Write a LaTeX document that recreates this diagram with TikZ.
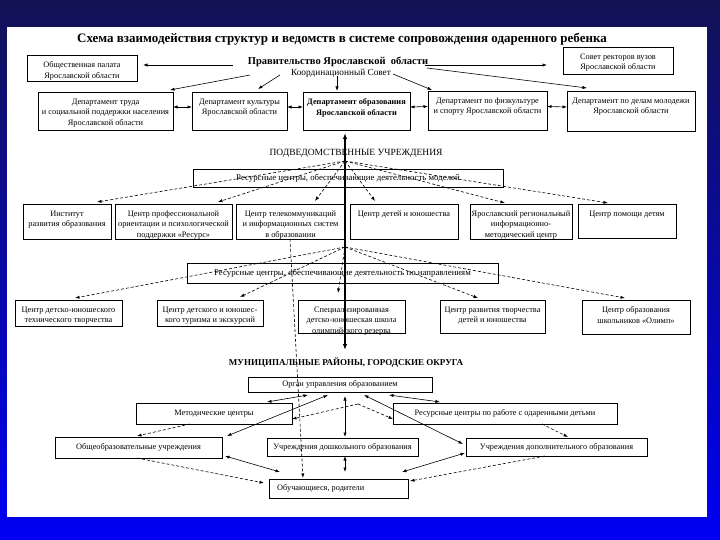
\documentclass[tikz,border=0pt]{standalone}
\usepackage{fontspec}
\setmainfont{Liberation Serif}
\usetikzlibrary{arrows.meta}
\definecolor{bgtop}{RGB}{18,18,85}
\definecolor{bgbot}{RGB}{0,0,245}
\tikzset{
  box/.style={draw, line width=0.7pt, inner sep=0pt, outer sep=0pt},
  txt/.style={font=\fontsize{8.3}{10.5}\selectfont, align=center, inner sep=0pt},
  arr/.style={-{Latex[length=4.5pt,width=3.2pt]}, line width=0.6pt},
  darr/.style={{Latex[length=4.5pt,width=3.2pt]}-{Latex[length=4.5pt,width=3.2pt]}, line width=0.6pt},
  dsh/.style={dash pattern=on 3pt off 2pt},
  thickarr/.style={{Latex[length=6pt,width=4.5pt]}-{Latex[length=6pt,width=4.5pt]}, line width=1.8pt}
}
\newcommand\tbox[6]{%
  \pgfmathsetmacro\bw{#4-#2}\pgfmathsetmacro\bh{#5-#3}%
  \node[box, minimum width=\bw pt, minimum height=\bh pt, anchor=north west] (#1) at (#2,#3) {};
  \node[txt, anchor=north] (#1-t) at ([yshift=-6.5pt]#1.north) {#6};}
\newcommand\cbox[6]{%
  \pgfmathsetmacro\bw{#4-#2}\pgfmathsetmacro\bh{#5-#3}%
  \node[box, minimum width=\bw pt, minimum height=\bh pt, anchor=north west] (#1) at (#2,#3) {};
  \node[txt] (#1-t) at (#1.center) {#6};}
\begin{document}
\begin{tikzpicture}[x=1pt,y=-1pt]
\useasboundingbox (0,0) rectangle (720,540);
\shade[top color=bgtop, bottom color=bgbot] (0,0) rectangle (720,540);
\fill[white] (7,27) rectangle (707,517);

% title and government
\node[font=\fontsize{13}{15}\selectfont\bfseries, inner sep=0pt] (title) at (342,39)
  {Схема взаимодействия структур и ведомств в системе сопровождения одаренного ребенка};
\node[font=\fontsize{10.5}{12}\selectfont\bfseries, inner sep=0pt] (prav) at (338,62) {Правительство Ярославской\ \ области};
\node[font=\fontsize{9.3}{11}\selectfont, inner sep=0pt] (koord) at (341,73) {Координационный Совет};

\tbox{palata}{27}{55}{137}{81}{Общественная палата\\Ярославской области}
\tbox{rektor}{563}{47}{673}{74}{Совет ректоров вузов\\Ярославской области}

\tbox{trud}{38}{92}{173}{130}{Департамент труда\\и социальной поддержки населения\\Ярославской области}
\tbox{kult}{192}{92}{287}{130}{Департамент культуры\\Ярославской области}
\tbox{obr}{303}{92}{410}{130}{\bfseries Департамент образования\\\bfseries Ярославской области}
\tbox{sport}{428}{91}{547}{130}{Департамент по физкультуре\\и спорту Ярославской области}
\tbox{molod}{567}{91}{695}{131}{Департамент по делам молодежи\\Ярославской области}

\draw[arr] ([shift={(-105,3)}]prav.center) -- ([shift={(116,10)}]palata.north west);
\draw[arr] ([shift={(87,3)}]prav.center) -- ([shift={(-16,18)}]rektor.north west);
\draw[arr] ([shift={(-88,13)}]prav.center) -- ([shift={(132,-2)}]trud.north west);
\draw[arr] ([shift={(-58,13)}]prav.center) -- ([shift={(66,-3)}]kult.north west);
\draw[arr] ([shift={(-4,3)}]koord.center) -- ([shift={(34,-1)}]obr.north west);
\draw[arr] ([shift={(52,1)}]koord.center) -- ([shift={(4,-1)}]sport.north west);
\draw[arr] ([shift={(89,6)}]prav.center) -- ([shift={(20,-3)}]molod.north west);

\draw[darr] ([yshift=4pt]trud.east) -- ([yshift=4pt]kult.west);
\draw[darr] ([yshift=4pt]kult.east) -- ([yshift=4pt]obr.west);
\draw[darr] ([yshift=4pt]obr.east) -- ([yshift=4pt]sport.west);
\draw[darr] ([yshift=4pt]sport.east) -- ([yshift=4pt]molod.west);

% subordinate institutions
\node[font=\fontsize{9.5}{11}\selectfont, inner sep=0pt] (podved) at (356,153) {ПОДВЕДОМСТВЕННЫЕ УЧРЕЖДЕНИЯ};
\node[font=\fontsize{9}{11}\selectfont\bfseries, inner sep=0pt] (mun) at (346,363) {МУНИЦИПАЛЬНЫЕ РАЙОНЫ, ГОРОДСКИЕ ОКРУГА};

\cbox{rc1}{193}{169}{503}{187}{\fontsize{8.8}{10.5}\selectfont Ресурсные центры, обеспечивающие деятельность моделей}
\coordinate (h1) at (345,161);

\tbox{inst}{23}{204}{111}{239}{Институт\\развития образования}
\tbox{resurs}{115}{204}{232}{239}{Центр профессиональной\\ориентации и психологической\\поддержки «Ресурс»}
\tbox{telekom}{236}{204}{345}{239}{Центр телекоммуникаций\\и информационных систем\\в образовании}
\tbox{yunosh}{350}{204}{458}{239}{Центр детей и юношества}
\tbox{yarreg}{470}{204}{572}{239}{Ярославский региональный\\информационно-\\методический центр}
\tbox{pomosh}{578}{204}{676}{238}{Центр помощи детям}

\draw[arr,dsh] (h1) -- ([shift={(74,-2)}]inst.north west);
\draw[arr,dsh] (h1) -- ([shift={(103,-2)}]resurs.north west);
\draw[arr,dsh] (h1) -- ([shift={(79,-3)}]telekom.north west);
\draw[arr,dsh] (h1) -- ([shift={(25,-3)}]yunosh.north west);
\draw[arr,dsh] (h1) -- ([shift={(35,-1)}]yarreg.north west);
\draw[arr,dsh] (h1) -- ([shift={(30,-1)}]pomosh.north west);

\cbox{rc2}{187}{263}{498}{283}{\fontsize{8.8}{10.5}\selectfont Ресурсные центры, обеспечивающие деятельность по направлениям}
\coordinate (h2) at (345,247);

\tbox{tehn}{15}{300}{122}{326}{Центр детско-юношеского\\технического творчества}
\tbox{turizm}{157}{300}{263}{326}{Центр детского и юношес-\\кого туризма и экскурсий}
\tbox{sschool}{298}{300}{405}{333}{Специализированная\\детско-юношеская школа\\олимпийского резерва}
\tbox{razv}{440}{300}{545}{333}{Центр развития творчества\\детей и юношества}
\tbox{olimp}{582}{300}{690}{334}{Центр образования\\школьников «Олимп»}

\draw[arr,dsh] (h2) -- ([shift={(60,-2)}]tehn.north west);
\draw[arr,dsh] (h2) -- ([shift={(83,-3)}]turizm.north west);
\draw[arr,dsh] (h2) -- ([shift={(40,-7)}]sschool.north west);
\draw[arr,dsh] (h2) -- ([shift={(38,-2)}]razv.north west);
\draw[arr,dsh] (h2) -- ([shift={(43,-2)}]olimp.north west);

\draw[thickarr] ([shift={(42,41)}]obr.north west) -- ([shift={(-1,-13)}]mun.center);

% municipal level
\cbox{organ}{248}{377}{432}{392}{Орган управления образованием}
\cbox{metod}{136}{403}{292}{424}{Методические центры}
\cbox{rcod}{393}{403}{617}{424}{Ресурсные центры по работе с одаренными детьми}
\cbox{obsh}{55}{437}{222}{458}{Общеобразовательные учреждения}
\cbox{doshk}{267}{438}{418}{456}{Учреждения дошкольного образования}
\cbox{dop}{466}{438}{647}{456}{Учреждения дополнительного образования}
\pgfmathsetmacro\bw{408-269}\pgfmathsetmacro\bh{498-479}
\node[box, minimum width=\bw pt, minimum height=\bh pt, anchor=north west] (ucha) at (269,479) {};
\node[txt, anchor=west] (ucha-t) at ([xshift=8pt]ucha.west) {Обучающиеся, родители};

\draw[arr,dsh] ([shift={(54,35)}]telekom.north west) -- ([shift={(34,-1)}]ucha.north west);

\draw[darr] ([shift={(60,18)}]organ.north west) -- ([shift={(131,-1)}]metod.north west);
\draw[darr] ([shift={(80,18)}]organ.north west) -- ([shift={(172,-1)}]obsh.north west);
\draw[darr] ([shift={(97,19)}]organ.north west) -- ([shift={(78,-1)}]doshk.north west);
\draw[darr] ([shift={(116,18)}]organ.north west) -- ([shift={(-3,6)}]dop.north west);
\draw[darr] ([shift={(141,18)}]organ.north west) -- ([shift={(47,-1)}]rcod.north west);

\coordinate (h3) at (358,404);
\draw[arr,dsh] (h3) -- ([shift={(156,16)}]metod.north west);
\draw[arr,dsh] (h3) -- ([shift={(0,16)}]rcod.north west);
\draw[arr,dsh] ([shift={(54,21)}]metod.north west) -- ([shift={(82,-1)}]obsh.north west);
\draw[arr,dsh] ([shift={(149,21)}]rcod.north west) -- ([shift={(102,-1)}]dop.north west);

\draw[darr] ([shift={(170,19)}]obsh.north west) -- ([shift={(11,-7)}]ucha.north west);
\draw[arr,dsh] ([shift={(82,21)}]obsh.north west) -- ([shift={(-5,4)}]ucha.north west);
\draw[darr] ([shift={(78,18)}]doshk.north west) -- ([shift={(76,-7)}]ucha.north west);
\draw[darr] ([shift={(-1,15)}]dop.north west) -- ([shift={(133,-7)}]ucha.north west);
\draw[arr,dsh] ([shift={(79,18)}]dop.north west) -- ([shift={(141,2)}]ucha.north west);
\end{tikzpicture}
\end{document}
